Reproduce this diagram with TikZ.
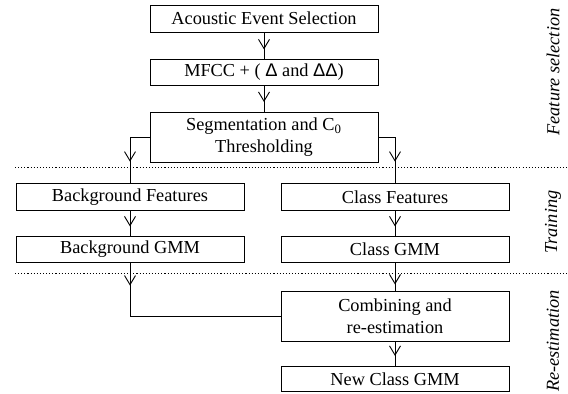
\documentclass[tikz,border=0pt]{standalone}
\usepackage{fontspec}
\setmainfont{Liberation Serif}
\newfontfamily\deltafont{Liberation Sans}
\usetikzlibrary{arrows.meta,decorations.markings}

\begin{document}
\begin{tikzpicture}[x=0.546pt, y=-0.546pt, line width=0.5pt,
    box/.style={draw, minimum width=124.5pt, minimum height=13.7pt, inner sep=0pt, align=center},
    tallbox/.style={box, minimum height=27.3pt},
    tipat/.style={postaction={decorate}, decoration={markings,
        mark=at position #1 with {\arrow{Straight Barb[length=5pt,width=6pt]}}}},
    stage/.style={rotate=90, font=\itshape}]
        \useasboundingbox (0,0) rectangle (568,394);

        % feature selection
        \node[box, minimum height=14.7pt] (acoustic) at (264,18.5) {Acoustic Event Selection};
        \node[box] (mfcc) at (264,72.5) {MFCC + ( {\deltafont Δ} and {\deltafont ΔΔ})};
        \node[tallbox] (seg) at (264,137.5) {Segmentation and C\textsubscript{0}\\Thresholding};

        \draw[tipat=-5.5pt] (acoustic) -- (mfcc);
        \draw[tipat=-5.5pt] (mfcc) -- (seg);

        % training
        \node[box, minimum height=14.7pt] (bgfeat) at (130,197) {Background Features};
        \node[box, minimum height=14.7pt] (classfeat) at (395,197) {Class Features};
        \node[box] (bggmm) at (130,249.5) {Background GMM};
        \node[box] (classgmm) at (395,249.5) {Class GMM};

        \draw[tipat=-11.7pt] (seg.west) -| (bgfeat.north);
        \draw[tipat=-11.7pt] (seg.east) -| (classfeat.north);
        \draw[tipat=-5.5pt] (bgfeat) -- (bggmm);
        \draw[tipat=-5.5pt] (classfeat) -- (classgmm);

        % re-estimation
        \node[tallbox] (comb) at (395,316) {Combining and\\re-estimation};
        \node[box] (newgmm) at (395,379) {New Class GMM};

        \draw[tipat=12.6pt] (bggmm.south) |- (comb.west);
        \draw[tipat=-3.3pt] (classgmm) -- (comb);
        \draw[tipat=-5.5pt] (comb) -- (newgmm);

        % stage separators and labels
        \coordinate (sepa) at (15,167);
        \coordinate (sepb) at (15,273);
        \draw[dash pattern=on 0.6pt off 1.1pt] (sepa) -- +(553,0);
        \draw[dash pattern=on 0.6pt off 1.1pt] (sepb) -- +(553,0);

        \node[stage] (lblfeat) at (553,72) {Feature selection};
        \node[stage] (lbltrain) at (553,222) {Training};
        \node[stage] (lblre) at (553,341) {Re-estimation};
    \end{tikzpicture}
\end{document}
